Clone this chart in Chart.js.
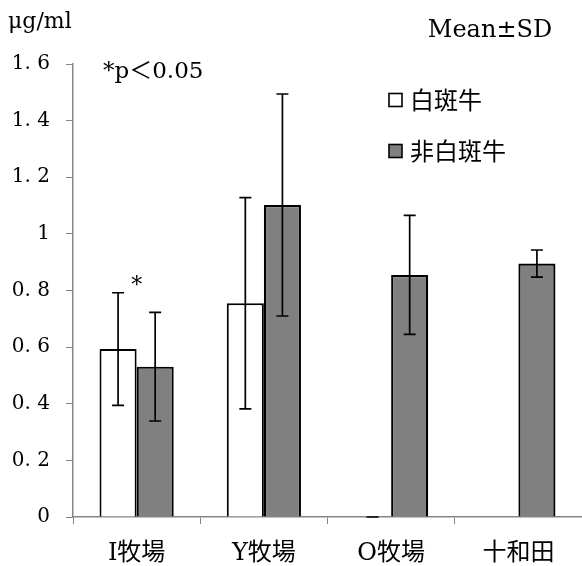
<!DOCTYPE html>
<html>
<head>
<meta charset="utf-8">
<script src="https://cdn.jsdelivr.net/npm/chart.js@4/dist/chart.umd.min.js"></script>
<style>
  html, body { margin: 0; padding: 0; background: #fff; }
  #wrap { width: 582px; height: 566px; position: relative; }
</style>
</head>
<body>
<div id="wrap"><canvas id="c" width="582" height="566"></canvas></div>
<script>
const categories = ['I牧場', 'Y牧場', 'O牧場', '十和田'];
const seriesNames = ['白斑牛', '非白斑牛'];
const whiteMeans = [0.593, 0.755, 0, null];
const whiteSD = [0.199, 0.373, 0, null];
const grayMeans = [0.531, 1.102, 0.855, 0.895];
const graySD = [0.192, 0.392, 0.21, 0.048];
const yTickLabels = ['0', '0. 2', '0. 4', '0. 6', '0. 8', '1', '1. 2', '1. 4', '1. 6'];
const unitLabel = 'μg/ml';
const statLabel = 'Mean±SD';
const sigLabel = '*p＜0.05';
const sigMarks = [{ cat: 0, value: 0.83, text: '*' }];

const serif = '"DejaVu Serif", "Liberation Serif", "Noto Sans CJK JP", serif';
const cjk = '"DejaVu Serif", "Noto Sans CJK JP", sans-serif';
const axisGray = '#868686';

const errorBars = {
  id: 'errorBars',
  afterDatasetsDraw(chart) {
    const ctx = chart.ctx;
    const y = chart.scales.y;
    ctx.save();
    ctx.strokeStyle = '#000';
    ctx.lineWidth = 1.7;
    chart.data.datasets.forEach((ds, di) => {
      const meta = chart.getDatasetMeta(di);
      meta.data.forEach((bar, i) => {
        const m = ds.data[i];
        const sd = ds.sd[i];
        if (m === null || sd === null) return;
        const x = bar.x;
        const yt = y.getPixelForValue(m + sd);
        const yb = y.getPixelForValue(m - sd);
        const cap = 6;
        ctx.beginPath();
        ctx.moveTo(x, yt); ctx.lineTo(x, yb);
        ctx.moveTo(x - cap, yt); ctx.lineTo(x + cap, yt);
        ctx.moveTo(x - cap, yb); ctx.lineTo(x + cap, yb);
        ctx.stroke();
      });
    });
    ctx.restore();
  }
};

const annotations = {
  id: 'annotations',
  afterDraw(chart) {
    const ctx = chart.ctx;
    const xs = chart.scales.x, ys = chart.scales.y;
    ctx.save();
    ctx.fillStyle = '#000';
    ctx.textBaseline = 'middle';
    ctx.textAlign = 'left';
    ctx.font = '22px ' + serif;
    ctx.fillText(unitLabel, 8, 22);
    ctx.font = '23px ' + serif;
    ctx.fillText(sigLabel, 103, 72);
    ctx.font = '24px ' + serif;
    ctx.textAlign = 'center';
    ctx.fillText(statLabel, 490, 31);
    // significance marks
    sigMarks.forEach(s => {
      ctx.textAlign = 'center';
      ctx.font = '22px ' + serif;
      ctx.fillText(s.text, xs.getPixelForValue(s.cat), ys.getPixelForValue(s.value) + 4);
    });
    // legend
    ctx.textAlign = 'left';
    ctx.font = '24px "Noto Sans CJK JP", sans-serif';
    const items = [
      { name: seriesNames[0], fill: '#ffffff', y: 100 },
      { name: seriesNames[1], fill: '#808080', y: 151 }
    ];
    items.forEach(it => {
      ctx.fillStyle = it.fill;
      ctx.fillRect(389, it.y - 6.5, 13, 13);
      ctx.strokeStyle = '#000';
      ctx.lineWidth = 1.6;
      ctx.strokeRect(389, it.y - 6.5, 13, 13);
      ctx.fillStyle = '#000';
      ctx.fillText(it.name, 410, it.y);
    });
    ctx.restore();
  }
};

new Chart(document.getElementById('c'), {
  type: 'bar',
  data: {
    labels: categories,
    datasets: [
      {
        label: seriesNames[0],
        data: whiteMeans,
        sd: whiteSD,
        backgroundColor: '#ffffff',
        borderColor: '#000',
        borderWidth: 2,
        borderSkipped: 'start'
      },
      {
        label: seriesNames[1],
        data: grayMeans,
        sd: graySD,
        backgroundColor: '#808080',
        borderColor: '#000',
        borderWidth: 2.2,
        borderSkipped: 'start'
      }
    ]
  },
  options: {
    responsive: false,
    animation: false,
    devicePixelRatio: 1,
    layout: { padding: { top: 64, right: 0, bottom: 0, left: 0 } },
    plugins: { legend: { display: false }, tooltip: { enabled: false } },
    datasets: { bar: { categoryPercentage: 0.583, barPercentage: 1.0 } },
    scales: {
      x: {
        grid: { display: true, drawOnChartArea: false, drawTicks: true, tickLength: 7, color: axisGray, offset: true },
        border: { display: true, color: axisGray, width: 1.5 },
        ticks: { color: '#000', font: { size: 24, family: cjk }, padding: 15, maxRotation: 0 },
        afterFit(scale) { scale.height = 49; }
      },
      y: {
        min: 0, max: 1.6,
        grid: { display: true, drawOnChartArea: false, drawTicks: true, tickLength: 7, color: axisGray },
        border: { display: true, color: axisGray, width: 1.5 },
        ticks: {
          stepSize: 0.2,
          color: '#000',
          font: { size: 20, family: serif },
          padding: 16,
          callback: (v, i) => yTickLabels[i]
        },
        afterFit(scale) { scale.width = 73; }
      }
    }
  },
  plugins: [errorBars, annotations]
});
</script>
</body>
</html>
